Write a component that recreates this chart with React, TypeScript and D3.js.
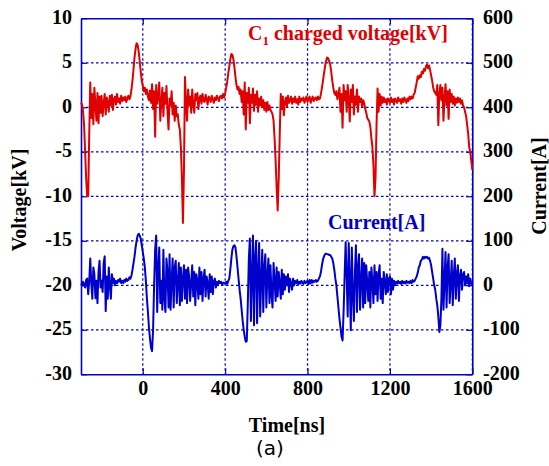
import React, { useEffect, useRef } from 'react';
import * as d3 from 'd3';

// scope record: first sample time and sample interval, ns
const t0 = -300;
const dt = 5;

// C1 charged voltage [kV], one row = 100 ns
const voltage = [
  0.5, 0.3, -0.5, -2, -5, -8, -10, -10, -3, 2.8, -1.2, 1.5, -1.9, 2.2, 0.3, -1.5, 1.6, -1.8, 1.2, -0.6,
  1.3, -1.0, 0.4, 1.5, -0.8, 1.1, 0.6, -0.5, 1.3, 0.2, 1.4, -0.3, 0.9, 1.2, 0.3, 1.5, 0.6, 1.0, 0.4, 1.3,
  0.7, 1.1, 0.8, 1.2, 0.6, 1.0, 1.3, 0.9, 1.2, 2.0, 3.0, 4.3, 5.6, 6.6, 7.2, 7.0, 6.3, 5.2, 4.0, 3.0,
  2.4, 1.8, 2.2, 1.5, 2.0, 1.2, 0.8, 1.9, 0.5, 2.6, -0.2, 1.8, -3.3, 2.5, 0.4, 1.2, 2.8, -1.5, 0.6, 2.2,
  -1.0, 1.6, 0.4, 2.4, -0.5, -2.5, 1.0, 0.2, 1.8, -0.8, 0.5, -1.5, 0.2, -1.0, -0.8, -2.0, -2.5, -4.5, -8.0, -13.0,
  -7.0, 3.4, 0.5, -1.5, 2.0, 0.2, 1.2, -0.6, 2.0, 0.3, -0.6, 1.5, 0.8, 1.6, -0.2, 1.0, 1.3, 0.4, 1.5, 0.7,
  0.6, 1.4, 0.9, 0.3, 1.2, 1.0, 0.6, 1.3, 0.9, 0.5, 1.1, 0.8, 1.3, 1.0, 0.7, 1.2, 1.3, 1.0, 1.5, 1.1,
  1.6, 2.2, 2.9, 3.8, 4.6, 5.4, 6.0, 5.9, 5.4, 4.5, 3.4, 2.5, 2.0, 2.3, 1.5, 2.0, 0.6, 1.8, -0.8, 2.8,
  -2.5, 1.6, 0.5, 2.2, -1.8, 1.4, 0.5, 2.1, -0.4, 1.4, 0.3, 1.8, -0.5, 1.0, 0.2, 1.2, 0.0, 0.8, -0.3, 0.5,
  -0.5, 0.6, -0.3, 0.2, -0.3, -0.5, -0.8, -1.5, -3.5, -6.0, -9.0, -11.6, -8.0, -3.0, 1.5, -0.2, 1.2, -0.9, 0.6, 1.1,
  0.1, 1.3, 0.5, 0.8, 1.2, 0.4, 1.0, 0.6, 1.2, 0.5, 0.9, 0.3, 1.2, 0.6, 1.0, 0.8, 1.1, 0.5, 0.9, 1.2,
  0.6, 1.0, 1.2, 0.5, 0.9, 1.2, 0.7, 1.0, 1.1, 0.8, 1.2, 0.9, 1.0, 1.5, 2.2, 3.0, 3.8, 4.6, 5.2, 5.6,
  5.5, 5.2, 4.8, 4.0, 3.0, 2.2, 1.6, 1.4, 1.8, 0.9, 1.5, 2.2, -0.5, 1.5, -2.3, 2.5, 0.8, 1.8, -0.5, 2.5,
  1.0, -1.6, 2.0, 0.6, 2.5, -0.8, 1.2, 0.3, 2.0, -0.5, 1.2, 0.6, 1.0, 0.1, 0.8, 0.5, -0.2, -0.6, -1.2, -1.4,
  -1.6, -2.2, -3.5, -4.5, -6.5, -10.0, -8.0, -2.0, 2.1, -0.5, 1.5, 0.2, 1.2, 0.5, 1.1, 0.6, 0.9, 0.3, 1.0, 0.8,
  0.5, 1.1, 0.6, 0.9, 0.3, 1.0, 0.8, 0.5, 1.1, 0.7, 0.9, 0.4, 1.0, 0.6, 1.1, 0.8, 0.5, 1.0, 0.7, 1.2,
  0.9, 1.2, 1.0, 1.4, 1.6, 2.2, 2.8, 3.5, 3.2, 3.6, 3.4, 4.0, 3.8, 4.3, 4.1, 4.6, 4.8, 4.4, 4.7, 4.2,
  3.6, 3.0, 2.2, 1.8, 1.6, 1.4, 2.5, -2.0, 1.5, 2.5, 0.8, 2.2, -1.5, 1.0, 2.6, 0.2, 1.8, -1.3, 2.0, 0.6,
  1.5, 0.4, 1.2, 0.2, 1.0, 0.5, 1.1, 0.6, 1.0, 0.4, 0.8, 0.2, 0.0, -0.5, -1.0, -2.0, -3.0, -4.5, -5.0, -6.0,
  -7.0
];

// current [A], same time base
const current = [
  4, 0, 8, 2, -5, 12, 15, -20, 10, 60, 5, -30, 40, 25, -29, 10, -40, 30, 55, -5,
  10, -15, 50, 65, -58, 20, -30, 40, 0, -30, 25, 5, 15, 0, 10, 5, 12, 8, 15, 5,
  10, 5, 12, 8, 15, 10, 12, 18, 15, 22, 35, 50, 65, 85, 100, 112, 116, 112, 105, 90,
  75, 60, 40, 10, -30, -60, -95, -120, -140, -148, -100, 0, 80, 112, -60, 40, 85, -40, 10, -55,
  80, -30, -60, 60, 30, -50, 70, -55, 10, 60, -50, 40, 55, -40, 5, 50, -45, 40, -35, 15,
  45, -30, 35, -40, 40, 20, -35, 5, 45, -25, 30, -45, 25, 10, -30, 40, -20, 30, -35, 15,
  35, -25, 20, 5, -30, 25, -15, 20, -20, 10, 15, -5, 8, 0, 10, 5, 8, 2, 6, 4,
  5, 8, 3, 10, 15, 35, 60, 80, 88, 90, 85, 65, 40, 15, -10, -30, -55, -80, -100, -115,
  -127, -125, -40, 60, 105, -80, 20, 112, -90, 60, 100, -85, 30, 95, -70, 10, 80, -60, 40, 70,
  -50, 20, 60, -40, 45, -20, -50, 50, 10, -35, 40, -25, 30, 5, -30, 35, -20, 25, -10, 20,
  0, 25, -15, 15, 5, -10, 15, 0, 10, 5, 12, 2, 8, 4, 10, 6, 3, 10, 5, 8,
  10, 3, 12, 4, 12, 6, 10, 8, 12, 8, 10, 15, 20, 30, 45, 58, 65, 70, 71, 70,
  70, 68, 68, 64, 60, 50, 35, 15, 0, -25, -50, -75, -95, -115, -124, -60, 20, 97, 20, -70,
  95, 10, -101, 85, -20, -80, 30, 90, -60, 40, 70, -55, 10, 60, -50, 50, -40, 45, 5, -35,
  30, -50, 40, 10, -40, 45, -20, 30, -35, 25, 45, -30, 15, -40, 30, 10, -20, 25, -15, 15,
  20, -20, 15, -10, 10, 0, 8, 4, 10, 5, 8, 3, 10, 5, 8, 4, 10, 6, 8, 5,
  10, 5, 12, 8, 10, 15, 20, 28, 40, 45, 55, 58, 64, 60, 64, 62, 64, 60, 62, 55,
  45, 30, 15, 0, -10, -30, -45, -70, -105, -90, -30, 82, -55, 10, 75, -50, 40, 70, -40, 5,
  55, -45, 20, 60, -30, 25, 45, -35, 20, 35, -10, 25, 30, 0, 20, 5, 25, -2, 15, 5,
  0
];

const time = voltage.map((_, i) => t0 + i * dt);

const timeTicks = [0, 400, 800, 1200, 1600];
const voltTicks = [10, 5, 0, -5, -10, -15, -20, -25, -30];
const currTicks = [600, 500, 400, 300, 200, 100, 0, -100, -200];

const W = 549;
const H = 466;

export default function App() {
  const ref = useRef<SVGSVGElement>(null);

  useEffect(() => {
    document.body.style.margin = '0';
    const svg = d3.select(ref.current);
    svg.selectAll('*').remove();

    const left = 81, right = 472.3, top = 18.3, bottom = 374.3;
    const blue = '#0000cc';
    const red = '#e00000';
    const font = '"Liberation Serif", "Times New Roman", serif';

    const x = d3.scaleLinear().domain([-300, 1600]).range([left, right]);
    const yV = d3.scaleLinear().domain([-30, 10]).range([bottom, top]);
    const yI = d3.scaleLinear().domain([-200, 600]).range([bottom, top]);

    // dotted grid
    const grid = svg.append('g');
    grid.selectAll('.vg')
      .data(timeTicks)
      .enter()
      .append('line')
      .attr('x1', d => x(d)).attr('x2', d => x(d))
      .attr('y1', top).attr('y2', bottom);
    grid.selectAll('.hg')
      .data(voltTicks.slice(1, -1))
      .enter()
      .append('line')
      .attr('x1', left).attr('x2', right)
      .attr('y1', d => yV(d)).attr('y2', d => yV(d));
    grid.selectAll('line')
      .attr('stroke', blue)
      .attr('stroke-width', 1.2)
      .attr('stroke-dasharray', '2.5,2.5');

    // axes
    const fmt = (d: any) => String(d);
    const axL = svg.append('g')
      .attr('transform', `translate(${left},0)`)
      .call(d3.axisLeft(yV).tickValues(voltTicks).tickFormat(fmt).tickSizeInner(-6).tickSizeOuter(0).tickPadding(9));
    const axR = svg.append('g')
      .attr('transform', `translate(${right},0)`)
      .call(d3.axisRight(yI).tickValues(currTicks).tickFormat(fmt).tickSizeInner(-6).tickSizeOuter(0).tickPadding(10.7));
    const axB = svg.append('g')
      .attr('transform', `translate(0,${bottom})`)
      .call(d3.axisBottom(x).tickValues(timeTicks).tickFormat(fmt).tickSizeInner(-6).tickSizeOuter(0).tickPadding(6.5));
    const axT = svg.append('g')
      .attr('transform', `translate(0,${top})`)
      .call(d3.axisTop(x).tickValues(timeTicks).tickFormat(() => '').tickSizeInner(-6).tickSizeOuter(0));

    [axL, axR, axB, axT].forEach(ax => {
      ax.select('.domain').attr('stroke', blue).attr('stroke-width', 1.6);
      ax.selectAll('.tick line').attr('stroke', blue).attr('stroke-width', 1.2);
      ax.selectAll('.tick text')
        .attr('font-family', font)
        .attr('font-size', 20)
        .attr('font-weight', 'bold')
        .attr('fill', '#000');
    });
    axL.selectAll('.tick text').attr('dy', '0.25em');
    axR.selectAll('.tick text').attr('dy', '0.25em');

    // traces
    const trace = (vals: number[], y: d3.ScaleLinear<number, number>, color: string) => {
      svg.append('path')
        .datum(vals)
        .attr('fill', 'none')
        .attr('stroke', color)
        .attr('stroke-width', 2)
        .attr('stroke-linejoin', 'round')
        .attr('d', d3.line<number>().x((_, i) => x(time[i])).y(d => y(d)));
    };
    trace(current, yI, blue);
    trace(voltage, yV, red);

    // titles
    const txt = (g: any) => g.attr('font-family', font).attr('font-weight', 'bold').attr('font-size', 20);
    svg.append('text').call(txt)
      .attr('transform', 'translate(26,200) rotate(-90)')
      .attr('text-anchor', 'middle')
      .text('Voltage[kV]');
    svg.append('text').call(txt)
      .attr('transform', 'translate(546,186) rotate(-90)')
      .attr('text-anchor', 'middle')
      .text('Current[A]');
    svg.append('text').call(txt)
      .attr('x', 287).attr('y', 432)
      .attr('text-anchor', 'middle')
      .text('Time[ns]');
    svg.append('text')
      .attr('x', 270).attr('y', 455)
      .attr('text-anchor', 'middle')
      .attr('font-family', '"DejaVu Sans", sans-serif')
      .attr('font-size', 20)
      .text('(a)');

    const vLab = svg.append('text').call(txt)
      .attr('x', 248).attr('y', 40)
      .attr('fill', red);
    vLab.append('tspan').text('C');
    vLab.append('tspan').attr('dy', 5).attr('font-size', 13).text('1');
    vLab.append('tspan').attr('dy', -5).text(' charged voltage[kV]');

    svg.append('text').call(txt)
      .attr('x', 328).attr('y', 229)
      .attr('fill', blue)
      .text('Current[A]');
  }, []);

  return (
    <div>
      <svg ref={ref} width={W} height={H} style={{ display: 'block', background: '#fff' }} />
    </div>
  );
}
